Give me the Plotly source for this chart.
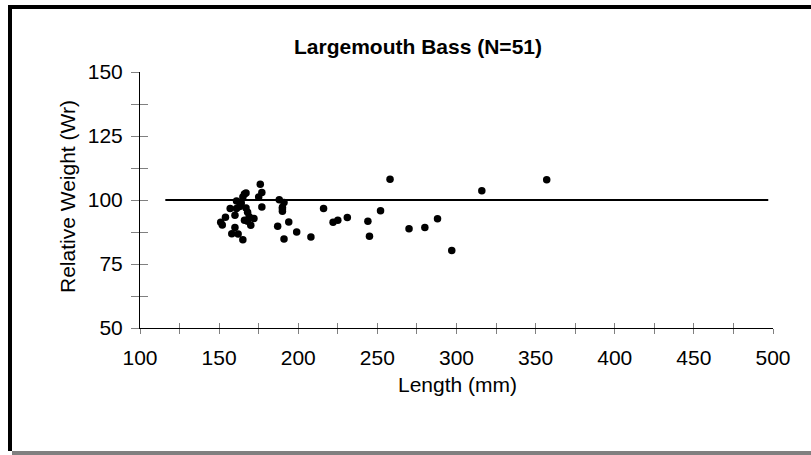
import plotly.graph_objects as go

# ---- data ----
length_mm = [151, 152, 154, 157, 158, 160, 160, 161, 161, 162, 164, 165, 165, 166, 167, 167, 168,
             166, 168, 170, 172, 175, 176, 177, 177, 188, 187, 190, 190, 191, 191, 194, 199, 208,
             216, 222, 225, 231, 244, 245, 252, 258, 270, 280, 288, 297, 316, 357, 163, 169, 190]
rel_weight = [91.3, 90.2, 93.3, 96.7, 86.8, 94.0, 89.3, 96.7, 99.6, 86.7, 98.8, 84.5, 101.2, 102.3,
              102.7, 96.9, 95.2, 92.1, 91.7, 90.1, 92.8, 101.2, 106.2, 102.9, 97.3, 100.1, 89.7,
              96.5, 95.6, 99.0, 84.8, 91.4, 87.5, 85.5, 96.7, 91.3, 92.1, 93.2, 91.7, 85.8, 95.8,
              108.1, 88.8, 89.3, 92.7, 80.3, 103.6, 107.9, 97.5, 93.5, 97.2]
ref_x = [116, 497]
ref_y = [100, 100]

x_tickvals = [100 + 25 * i for i in range(17)]
x_ticktext = [str(v) if v % 50 == 0 else "" for v in x_tickvals]
y_tickvals = [50 + 12.5 * i for i in range(9)]
y_ticktext = [str(int(v)) if v % 25 == 0 else "" for v in y_tickvals]

title_text = "Largemouth Bass (N=51)"
x_title = "Length (mm)"
y_title = "Relative Weight (Wr)"

# ---- layout constants (pixels) ----
W, H = 811, 455
L, R, T, B = 140, 773, 72, 328
PW, PH = R - L, B - T
FONT = "Arial, Liberation Sans, sans-serif"


def px_x(p):
    return (p - L) / PW


def px_y(p):
    return (B - p) / PH


fig = go.Figure()
fig.add_trace(go.Scatter(x=ref_x, y=ref_y, mode="lines",
                         line=dict(color="black", width=2), hoverinfo="skip"))
fig.add_trace(go.Scatter(x=length_mm, y=rel_weight, mode="markers",
                         marker=dict(color="black", size=7.5, symbol="circle")))
fig.add_trace(go.Scatter(x=[], y=[], xaxis="x2", yaxis="y2"))

tick_common = dict(showgrid=False, zeroline=False, tickmode="array",
                   tickcolor="#808080", tickwidth=1)
tick_font = dict(family=FONT, size=21, color="black")

fig.update_layout(
    width=W, height=H,
    margin=dict(l=L, r=W - R, t=T, b=H - B, pad=0),
    paper_bgcolor="white", plot_bgcolor="white",
    showlegend=False,
    xaxis=dict(range=[100, 500], tickvals=x_tickvals, ticktext=x_ticktext,
               ticks="outside", ticklen=5, showline=True, linecolor="black", linewidth=1,
               ticklabelstandoff=6, tickfont=tick_font, **tick_common),
    yaxis=dict(range=[50, 150], tickvals=y_tickvals, ticktext=y_ticktext,
               ticks="outside", ticklen=8, showline=True, linecolor="black", linewidth=1,
               ticklabelstandoff=4, tickfont=tick_font, **tick_common),
    xaxis2=dict(range=[100, 500], overlaying="x", anchor="y", tickvals=x_tickvals,
                ticks="inside", ticklen=5, showticklabels=False, showline=False, **tick_common),
    yaxis2=dict(range=[50, 150], overlaying="y", anchor="x", tickvals=y_tickvals,
                ticks="inside", ticklen=8, showticklabels=False, showline=False, **tick_common),
    title=dict(text="<b>" + title_text + "</b>", xref="paper", x=px_x(418), xanchor="center",
               yref="container", y=1 - 47 / H, yanchor="middle",
               font=dict(family=FONT, size=21, color="black")),
    annotations=[
        dict(text=x_title, xref="paper", yref="paper", x=px_x(457), y=px_y(384),
             xanchor="center", yanchor="middle", showarrow=False,
             font=dict(family=FONT, size=21, color="black")),
        dict(text=y_title, xref="paper", yref="paper", x=px_x(67), y=px_y(197),
             xanchor="center", yanchor="middle", showarrow=False, textangle=-90,
             font=dict(family=FONT, size=21, color="black")),
    ],
    shapes=[
        # black frame: top and left
        dict(type="rect", xref="paper", yref="paper", x0=px_x(8), x1=px_x(W + 2),
             y0=px_y(5), y1=px_y(9), fillcolor="black", line=dict(width=0), layer="above"),
        dict(type="rect", xref="paper", yref="paper", x0=px_x(8), x1=px_x(12),
             y0=px_y(5), y1=px_y(451), fillcolor="black", line=dict(width=0), layer="above"),
        # grey band at bottom
        dict(type="rect", xref="paper", yref="paper", x0=px_x(12), x1=px_x(W + 2),
             y0=px_y(451), y1=px_y(H + 2), fillcolor="#808080", line=dict(width=0),
             layer="above"),
    ],
)

fig.write_html("out.html", config={"displayModeBar": False},
               post_script="document.body.style.margin='0';document.body.style.overflow='hidden';")
